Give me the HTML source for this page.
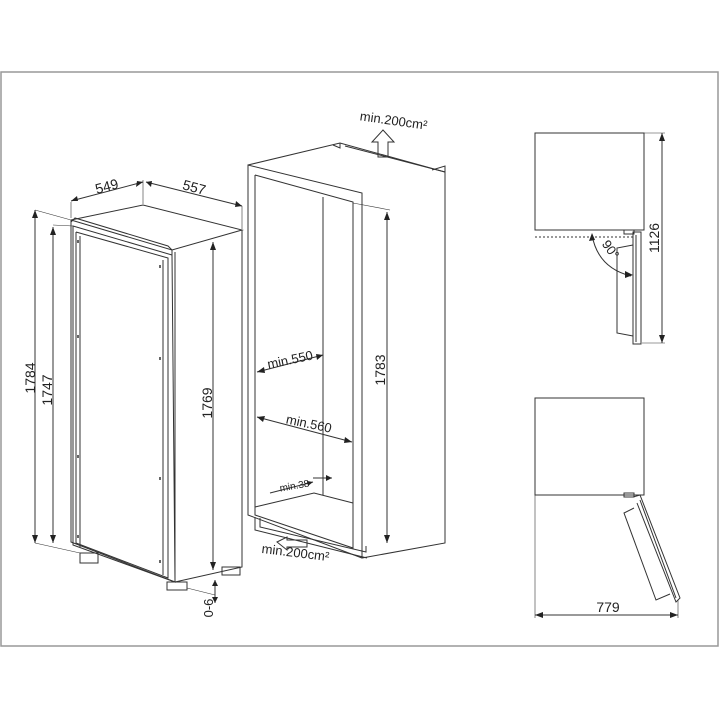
<!DOCTYPE html>
<html><head><meta charset="utf-8"><style>
html,body{margin:0;padding:0;background:#fff}
svg{display:block}
text{font-family:"Liberation Sans",sans-serif;fill:#222}
</style></head><body>
<svg width="720" height="720" viewBox="0 0 720 720" xmlns="http://www.w3.org/2000/svg">
<rect x="1" y="72" width="717" height="574" fill="none" stroke="#999" stroke-width="1.5"/>
<g fill="none" stroke="#333" stroke-width="1">
<polygon points="71,220 143,205 242,230 172,250" fill="#fff"/>
<polyline points="71,220 71,542 175,582 175,252"/>
<polyline points="242,230 242,567 175,582"/>
<polyline points="172,250 172,257"/>
<polygon points="73,226 172,255 175,582 73,545"/>
<polyline points="76,232 168,258 168,578 76,543 76,232"/>
<line x1="80" y1="236" x2="80" y2="547"/>
<line x1="163" y1="260" x2="163" y2="575"/>
<polyline points="71,222 75,218 168,246 172,250"/>
<g stroke-width="1.5">
<line x1="78" y1="240" x2="78" y2="243"/><line x1="78" y1="335" x2="78" y2="338"/><line x1="78" y1="455" x2="78" y2="458"/><line x1="78" y1="535" x2="78" y2="538"/>
<line x1="160" y1="265" x2="160" y2="268"/><line x1="160" y1="357" x2="160" y2="360"/><line x1="160" y1="477" x2="160" y2="480"/><line x1="160" y1="560" x2="160" y2="563"/>
</g>
<rect x="80" y="553" width="18" height="10"/>
<rect x="167" y="582" width="20" height="8"/>
<rect x="222" y="567" width="18" height="8"/>
<line x1="71" y1="202" x2="71" y2="218" stroke-width=".6"/>
<line x1="143" y1="180" x2="143" y2="204" stroke-width=".6"/>
<line x1="242" y1="206" x2="242" y2="229" stroke-width=".6"/>
<line x1="71" y1="201" x2="143" y2="182"/>
<line x1="146" y1="182" x2="242" y2="206"/>
<line x1="35" y1="210" x2="35" y2="543"/>
<line x1="35" y1="210" x2="71" y2="220" stroke-width=".6"/>
<line x1="35" y1="543" x2="80" y2="553" stroke-width=".6"/>
<line x1="53" y1="227" x2="53" y2="543"/>
<line x1="53" y1="225" x2="73" y2="226" stroke-width=".6"/>
<line x1="213" y1="242" x2="213" y2="570"/>
<line x1="215" y1="580" x2="215" y2="603"/>
<line x1="187" y1="588" x2="215" y2="595" stroke-width=".6"/>
<polyline points="248,165 340,143 445,172 445,543 362,558 362,193 248,165 248,515 362,558"/>
<polyline points="255,175 353,202 353,548 255,515 255,175"/>
<line x1="323" y1="197" x2="323" y2="495"/>
<polyline points="255,507 314,493 353,503"/>
<line x1="345" y1="146" x2="445" y2="172"/>
<polyline points="333,145 340,148 340,143"/>
<polyline points="432,170 445,166 445,172"/>
<polyline points="255,517 255,530 367,558"/>
<polyline points="260,518 260,527 366,552 366,546"/>
<line x1="353" y1="203" x2="390" y2="210" stroke-width=".6"/>
<line x1="387" y1="212" x2="387" y2="543"/>
<line x1="257" y1="372" x2="323" y2="355"/>
<line x1="257" y1="417" x2="352" y2="442"/>
<line x1="270" y1="493" x2="313" y2="482"/>
<line x1="313" y1="478" x2="332" y2="478"/>
<polygon points="383,130 372,142 378,142 378,157 388,157 388,142 394,142"/>
<polygon points="277,542 287,537 287,540 307,540 307,547 287,547 287,550"/>
<rect x="535" y="133" width="109" height="97"/>
<line x1="535" y1="237" x2="633" y2="237" stroke-dasharray="2,2"/>
<rect x="633" y="232" width="8" height="112"/>
<line x1="636" y1="235" x2="636" y2="342"/>
<polyline points="633,245 617,248 617,333 633,336"/>
<line x1="644" y1="133" x2="665" y2="133" stroke-width=".6"/>
<line x1="642" y1="343" x2="665" y2="343" stroke-width=".6"/>
<line x1="662" y1="133" x2="662" y2="343"/>
<path d="M592,235 Q598,268 631,276"/>
<rect x="624" y="230" width="10" height="4"/>
<rect x="535" y="398" width="109" height="97"/>
<rect x="624" y="493" width="10" height="4"/>
<polyline points="633,497 640,495 680,598 676,602 637,503"/>
<line x1="640" y1="500" x2="676" y2="598"/>
<polyline points="634,508 624,513 656,600 670,594"/>
<line x1="535" y1="495" x2="535" y2="618" stroke-width=".6"/>
<line x1="678" y1="600" x2="678" y2="618" stroke-width=".6"/>
<line x1="535" y1="615" x2="678" y2="615"/>
</g>
<g fill="#222">
<polygon points="71,201 77,196 78,201"/><polygon points="143,182 137,181 136,187"/>
<polygon points="146,182 152,181 151,187"/><polygon points="242,206 236,201 235,207"/>
<polygon points="35,210 32,218 38,218"/><polygon points="35,543 32,535 38,535"/>
<polygon points="53,227 50,235 56,235"/><polygon points="53,543 50,535 56,535"/>
<polygon points="213,242 210,250 216,250"/><polygon points="213,570 210,562 216,562"/>
<polygon points="215,580 212,586 218,586"/><polygon points="215,603 212,597 218,597"/>
<polygon points="387,212 384,220 390,220"/><polygon points="387,543 384,535 390,535"/>
<polygon points="257,372 264,367 265,373"/><polygon points="323,355 316,354 317,360"/>
<polygon points="257,417 265,416 263,422"/><polygon points="352,442 345,437 344,443"/>
<polygon points="313,482 307,481 308,486"/><polygon points="332,478 326,475 326,481"/>
<polygon points="662,133 659,141 665,141"/><polygon points="662,343 659,335 665,335"/>
<polygon points="592,233 589,241 595,240"/><polygon points="633,275 625,271 625,278"/>
<polygon points="535,615 543,612 543,618"/><polygon points="678,615 670,612 670,618"/>
</g>
<g font-size="14">
<text transform="translate(108,191) rotate(-15)" text-anchor="middle">549</text>
<text transform="translate(193,192) rotate(15)" text-anchor="middle">557</text>
<text transform="translate(35,378) rotate(-90)" text-anchor="middle">1784</text>
<text transform="translate(52,390) rotate(-90)" text-anchor="middle">1747</text>
<text transform="translate(212,403) rotate(-90)" text-anchor="middle">1769</text>
<text transform="translate(213,608) rotate(-90)" text-anchor="middle" font-size="13">0-6</text>
<text transform="translate(385,370) rotate(-90)" text-anchor="middle">1783</text>
<text transform="translate(291,364) rotate(-12)" text-anchor="middle" font-size="13">min.550</text>
<text transform="translate(308,428) rotate(12)" text-anchor="middle" font-size="13">min.560</text>
<text transform="translate(295,489) rotate(-10)" text-anchor="middle" font-size="10">min.38</text>
<text transform="translate(393,125) rotate(8)" text-anchor="middle" font-size="13">min.200cm²</text>
<text transform="translate(295,557) rotate(7)" text-anchor="middle" font-size="13">min.200cm²</text>
<text transform="translate(659,238) rotate(-90)" text-anchor="middle">1126</text>
<text transform="translate(607,252) rotate(55)" text-anchor="middle" font-size="13">90°</text>
<text x="608" y="612" text-anchor="middle">779</text>
</g>
</svg>
</body></html>
